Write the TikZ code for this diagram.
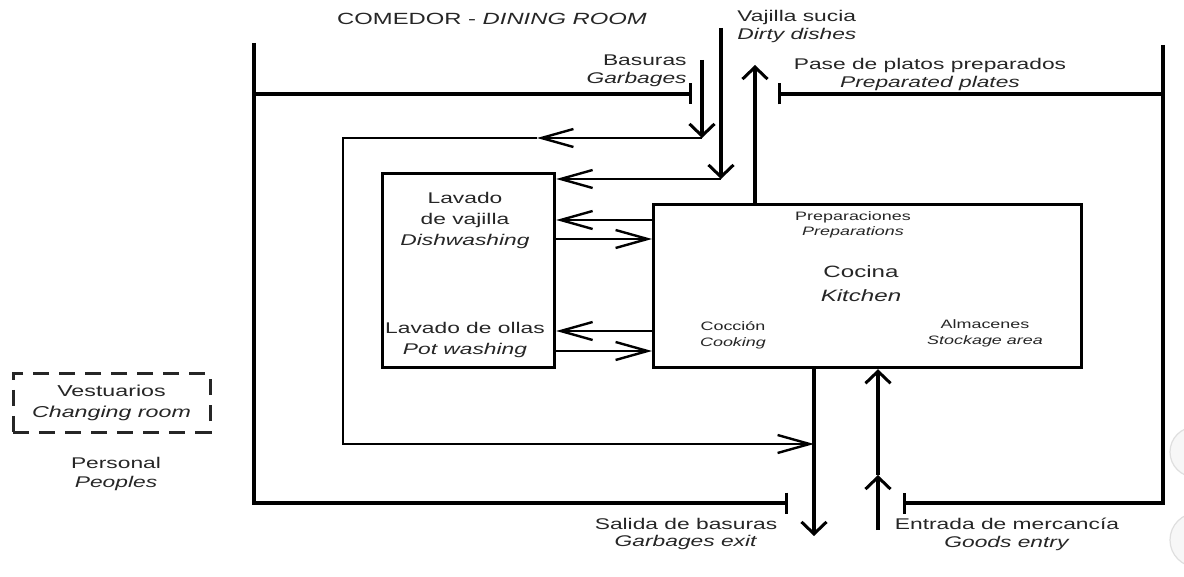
\documentclass[tikz,border=0pt]{standalone}
\usepackage{fontspec}
\setmainfont{Liberation Sans}
\usepackage{graphicx}
\usetikzlibrary{arrows.meta}
\newcommand{\tx}[4]{\scalebox{1.47}[1]{\fontsize{#1}{#2}\selectfont\begin{tabular}{@{}#3@{}}#4\end{tabular}}}
\begin{document}
\begin{tikzpicture}[x=0.5pt,y=-0.5pt,
  wall/.style={line width=1.8pt, line join=miter},
  tick/.style={-{Bar[width=10.5pt,line width=1.5pt]}},
  harr/.style={line width=1.2pt, -{Straight Barb[length=16pt,width=9pt,line width=1.2pt]}},
  varr/.style={line width=1.7pt, -{Straight Barb[length=6pt,width=12.5pt,line width=1.5pt]}},
  box/.style={draw, line width=1.6pt, inner sep=0pt, anchor=north west},
  lab/.style={inner sep=0pt, text=black!85}]
\useasboundingbox (0,0) rectangle (1184,577);
\clip (0,0) rectangle (1184,577);
\fill[white] (0,0) rectangle (1184,577);
% faint artefacts at the right edge
\fill[gray!6] (1195,452) circle (25);
\draw[gray!25, line width=0.6pt] (1195,452) circle (25);
\fill[gray!6] (1197,540) circle (27);
\draw[gray!25, line width=0.6pt] (1197,540) circle (27);

% walls
\draw[wall, tick] (254,43) -- (254,503) -- (788,503);
\draw[wall, tick] (254,94) -- (692,94);
\draw[wall, tick] (1163,94) -- (778,94);
\draw[wall, tick] (1163,45) -- (1163,503) -- (903,503);

% boxes
\node[box, minimum width=86pt, minimum height=97pt] (wash) at (381,172) {};
\node[box, minimum width=214pt, minimum height=81.5pt] (kitchen) at (652,203) {};
\node[lab, draw=black!85, dash pattern=on 8pt off 5pt, line width=1.5pt,
      minimum width=98.5pt, minimum height=29pt] (vest) at (111.5,403)
      {\tx{7.9pt}{10.5pt}{c}{Vestuarios\\\textit{Changing room}}};

% coordinates
\coordinate (bas0) at (702,60);
\coordinate (bas1) at (702,138);
\coordinate (basm) at (537,138);
\coordinate (lc1) at (343,138);
\coordinate (lc2) at (343,444);
\coordinate (exm) at (814,444);
\coordinate (ex) at (814,536);
\coordinate (vs0) at (721,28);
\coordinate (vs1) at (721,179);
\coordinate (pp) at (755,65);
\coordinate (ge0) at (878,530);
\coordinate (gem) at (878,475);
\coordinate (r1) at (0,220);
\coordinate (r2) at (0,239);
\coordinate (r3) at (0,331);
\coordinate (r4) at (0,351);

% connectors
\draw[varr] (bas0) -- (bas1);
\draw[harr] (bas1) -- (basm);
\draw[harr] (basm) -- (lc1) -- (lc2) -- (exm);
\draw[varr] (vs0) -- (vs1);
\draw[harr] (vs1) -- (wash.east |- vs1);
\draw[varr] (kitchen.north -| pp) -- (pp);
\draw[varr] (kitchen.south -| ex) -- (ex);
\draw[varr] (ge0) -- (gem);
\draw[varr] (gem) -- (kitchen.south -| ge0);
\draw[harr] (kitchen.west |- r1) -- (wash.east |- r1);
\draw[harr] (wash.east |- r2) -- (kitchen.west |- r2);
\draw[harr] (kitchen.west |- r3) -- (wash.east |- r3);
\draw[harr] (wash.east |- r4) -- (kitchen.west |- r4);

% labels
\node[lab] (comedor) at (492,21) {\tx{8.1pt}{10pt}{c}{COMEDOR - \textit{DINING ROOM}}};
\node[lab, anchor=east] (basuras) at (687,71) {\tx{7.75pt}{8.75pt}{r}{Basuras\\\textit{Garbages}}};
\node[lab, anchor=west] (vajilla) at (737,27) {\tx{7.75pt}{8.75pt}{l}{Vajilla sucia\\\textit{Dirty dishes}}};
\node[lab] (pase) at (930,75) {\tx{7.75pt}{8.75pt}{c}{Pase de platos preparados\\\textit{Preparated plates}}};
\node[lab] (washt1) at (465,220) {\tx{7.75pt}{10.5pt}{c}{Lavado\\de vajilla\\\textit{Dishwashing}}};
\node[lab] (washt2) at (465,340) {\tx{7.75pt}{10.5pt}{c}{Lavado de ollas\\\textit{Pot washing}}};
\node[lab] (prep) at (853,225) {\tx{6.1pt}{7.75pt}{c}{Preparaciones\\\textit{Preparations}}};
\node[lab] (cocina) at (861,285) {\tx{8.2pt}{12pt}{c}{Cocina\\\textit{Kitchen}}};
\node[lab] (coccion) at (733,335) {\tx{6.1pt}{8pt}{c}{Cocción\\\textit{Cooking}}};
\node[lab] (almac) at (985,333) {\tx{6.1pt}{8pt}{c}{Almacenes\\\textit{Stockage area}}};
\node[lab] (personal) at (116,474) {\tx{7.75pt}{9.5pt}{c}{Personal\\\textit{Peoples}}};
\node[lab] (salida) at (686,535) {\tx{7.75pt}{8.5pt}{c}{Salida de basuras\\\textit{Garbages exit}}};
\node[lab] (entrada) at (1007,535) {\tx{7.75pt}{9pt}{c}{Entrada de mercancía\\\textit{Goods entry}}};
\end{tikzpicture}
\end{document}
